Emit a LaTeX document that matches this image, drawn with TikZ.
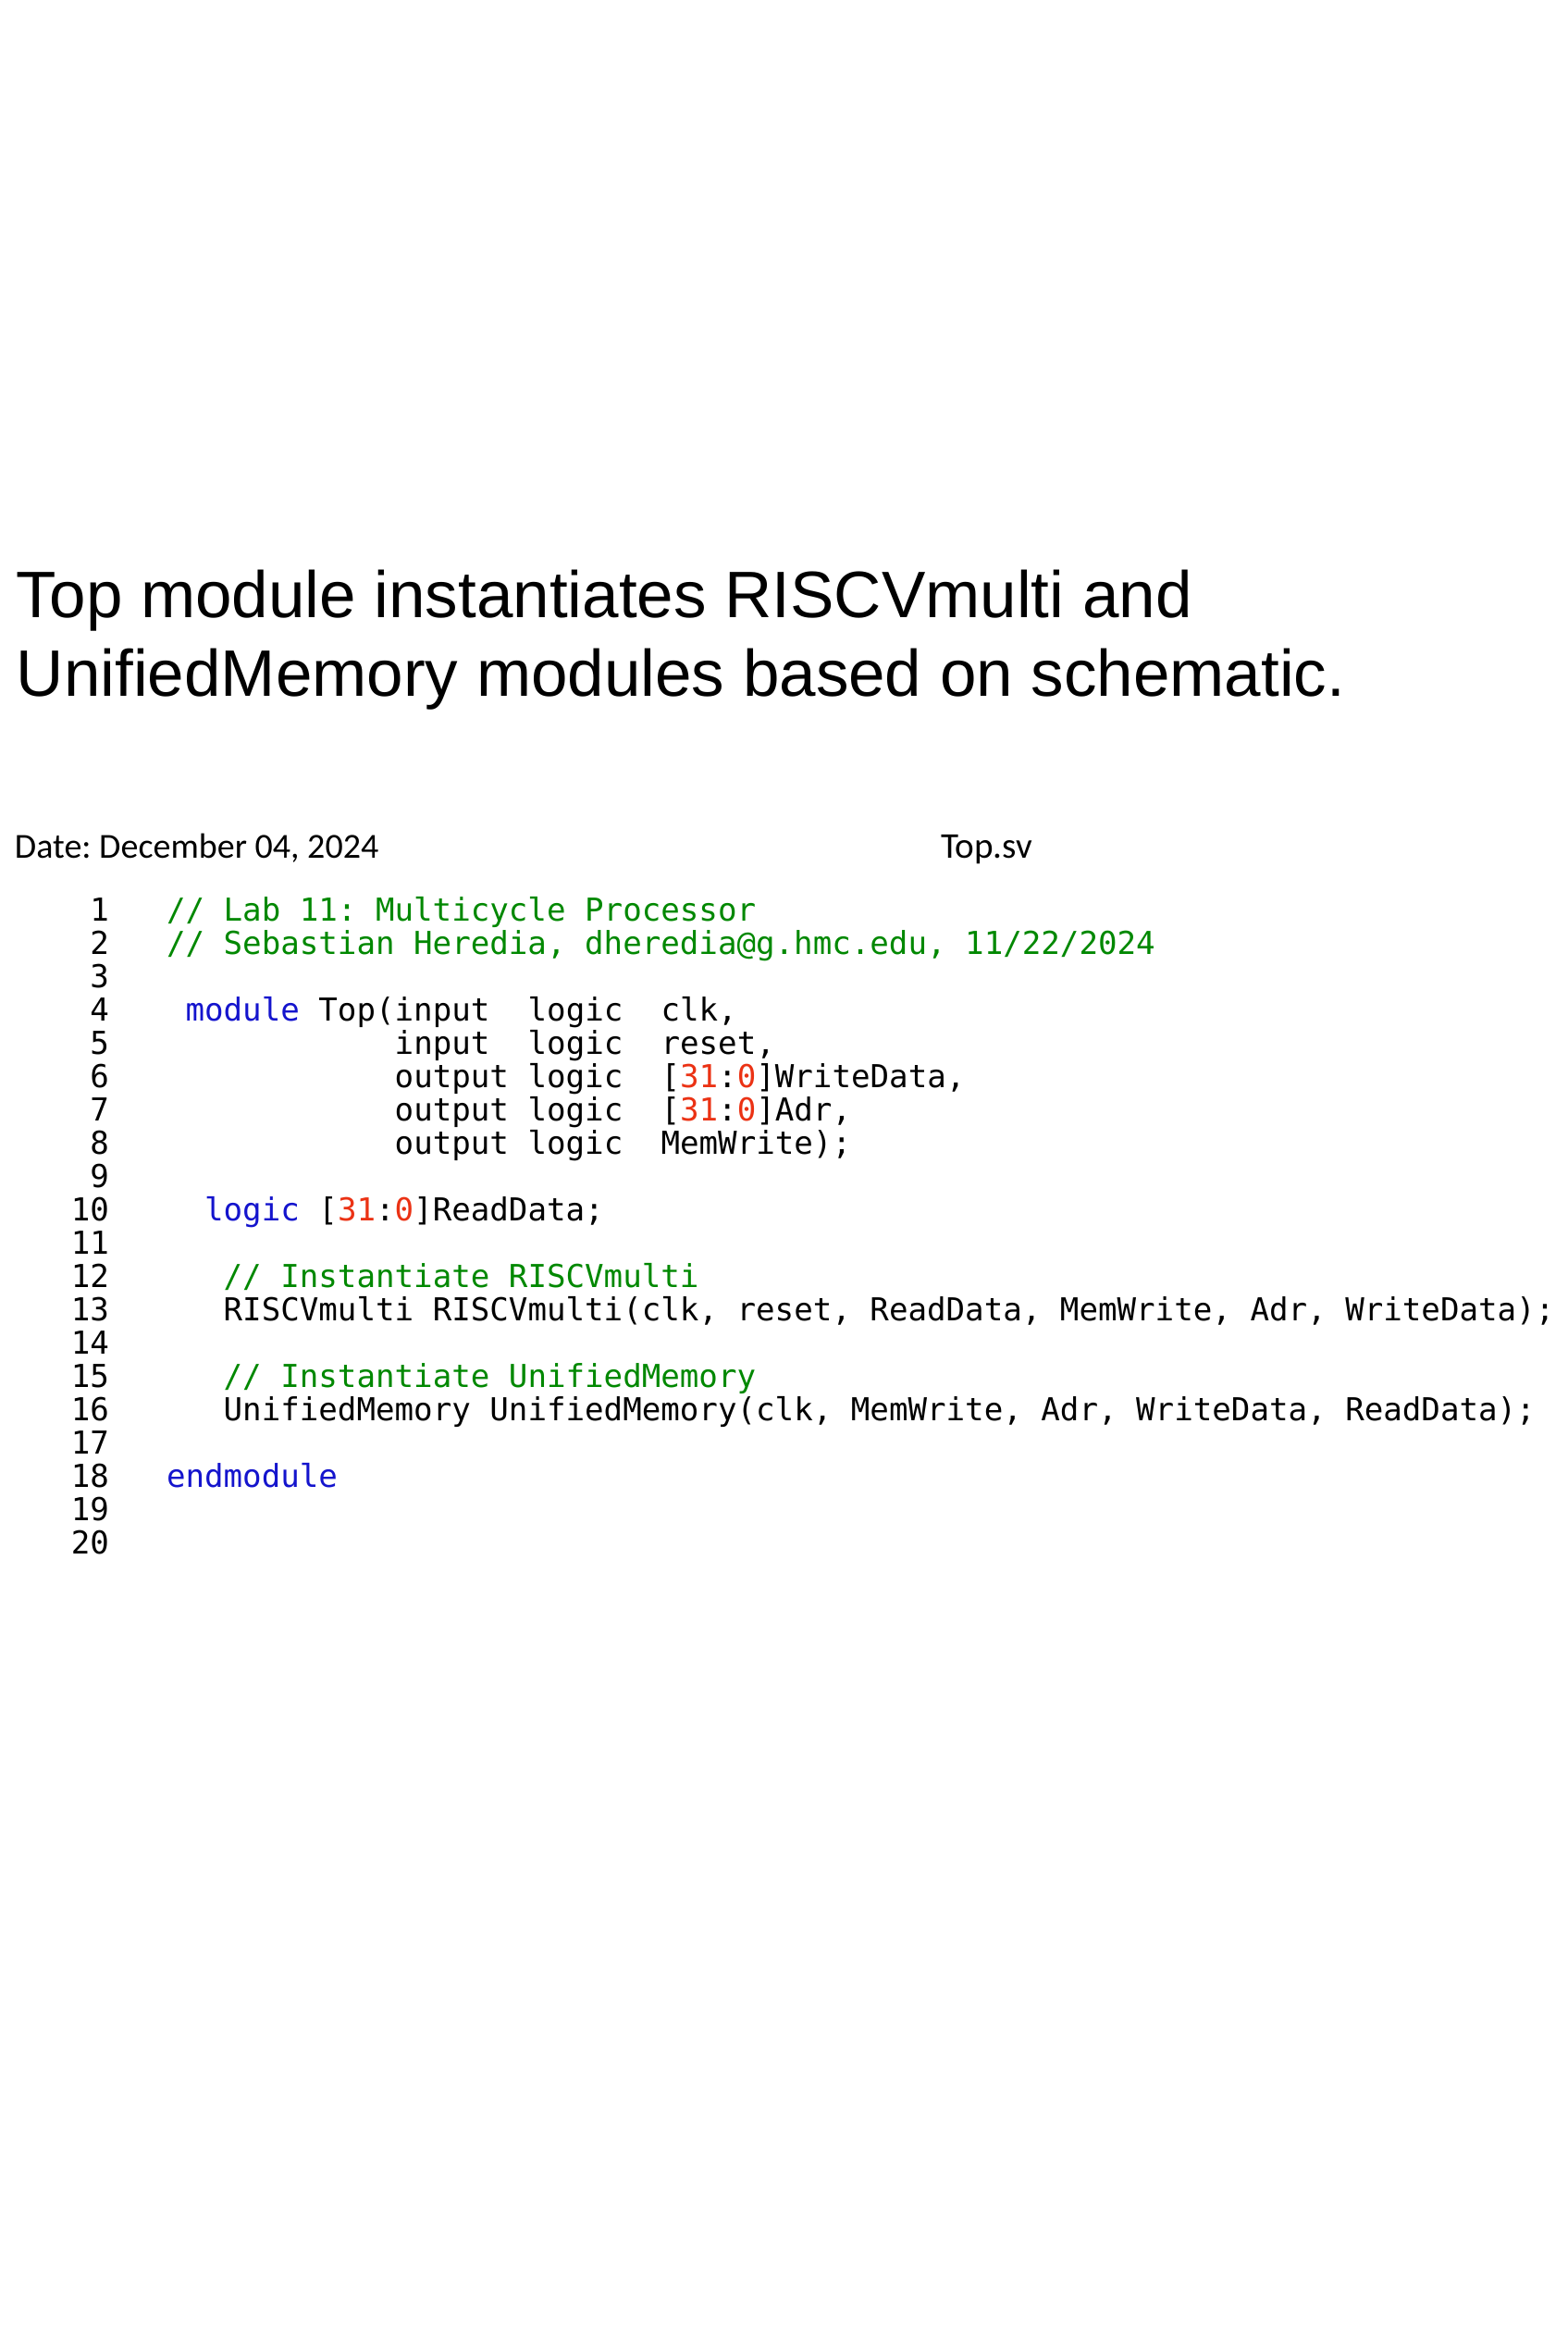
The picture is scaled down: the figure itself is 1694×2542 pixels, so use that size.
\documentclass[tikz,border=0pt]{standalone}
\usepackage{fontspec}
\setmainfont{Liberation Sans}
\newfontfamily\codefont{DejaVu Sans Mono}
\newfontfamily\hdrfont{Carlito}
\definecolor{cmt}{RGB}{0,136,0}
\definecolor{kw}{RGB}{20,20,205}
\definecolor{num}{RGB}{235,50,20}
\frenchspacing
\newcommand\codeline[4]{\node[codetxt] (#1) at ({180+#3*20.56},{995+(#2-1)*36}) {#4};}
\newcommand\kw[1]{\textcolor{kw}{#1}}
\newcommand\nm[1]{\textcolor{num}{#1}}
\newcommand\rng{[\nm{31}:\nm{0}]}
\begin{document}
\begin{tikzpicture}[x=0.5pt,y=-0.5pt,
  every node/.style={inner sep=0pt,outer sep=0pt,anchor=base west},
  titletxt/.style={font=\fontsize{35.5pt}{42.5pt}\selectfont},
  hdrtxt/.style={font=\hdrfont\fontsize{19pt}{23pt}\selectfont},
  codetxt/.style={font=\codefont\fontsize{17.07pt}{20pt}\selectfont},
  cmttxt/.style={codetxt,text=cmt},
  lnum/.style={codetxt,anchor=base east}]
\useasboundingbox[fill=white] (0,0) rectangle (1694,2542);
% title
\node[titletxt] (t1) at (18,667) {Top module instantiates RISCVmulti and};
\node[titletxt] (t2) at (18,752) {UnifiedMemory modules based on schematic.};
% header
\node[hdrtxt] (date) at (16,927) {Date: December 04, 2024};
\node[hdrtxt] (fname) at (1017,927) {\fontsize{19.6pt}{23pt}\selectfont Top.sv};
% line numbers
\foreach \n in {1,...,20}
  \node[lnum] (ln\n) at (118,{995+(\n-1)*36}) {\n};
% code
\node[cmttxt] (c1) at (180,995) {// Lab 11: Multicycle Processor};
\node[cmttxt] (c2) at (180,1031) {// Sebastian Heredia, dheredia@g.hmc.edu, 11/22/2024};
\codeline{c4a}{4}{1}{\kw{module} Top(input}
\codeline{c4b}{4}{19}{logic}
\codeline{c4c}{4}{26}{clk,}
\codeline{c5a}{5}{12}{input}
\codeline{c5b}{5}{19}{logic}
\codeline{c5c}{5}{26}{reset,}
\codeline{c6a}{6}{12}{output logic}
\codeline{c6c}{6}{26}{\rng WriteData,}
\codeline{c7a}{7}{12}{output logic}
\codeline{c7c}{7}{26}{\rng Adr,}
\codeline{c8a}{8}{12}{output logic}
\codeline{c8c}{8}{26}{MemWrite);}
\codeline{c10}{10}{2}{\kw{logic} \rng ReadData;}
\codeline{c12}{12}{3}{\textcolor{cmt}{// Instantiate RISCVmulti}}
\codeline{c13}{13}{3}{RISCVmulti RISCVmulti(clk, reset, ReadData, MemWrite, Adr, WriteData);}
\codeline{c15}{15}{3}{\textcolor{cmt}{// Instantiate UnifiedMemory}}
\codeline{c16}{16}{3}{UnifiedMemory UnifiedMemory(clk, MemWrite, Adr, WriteData, ReadData);}
\codeline{c18}{18}{0}{\kw{endmodule}}
\end{tikzpicture}
\end{document}
